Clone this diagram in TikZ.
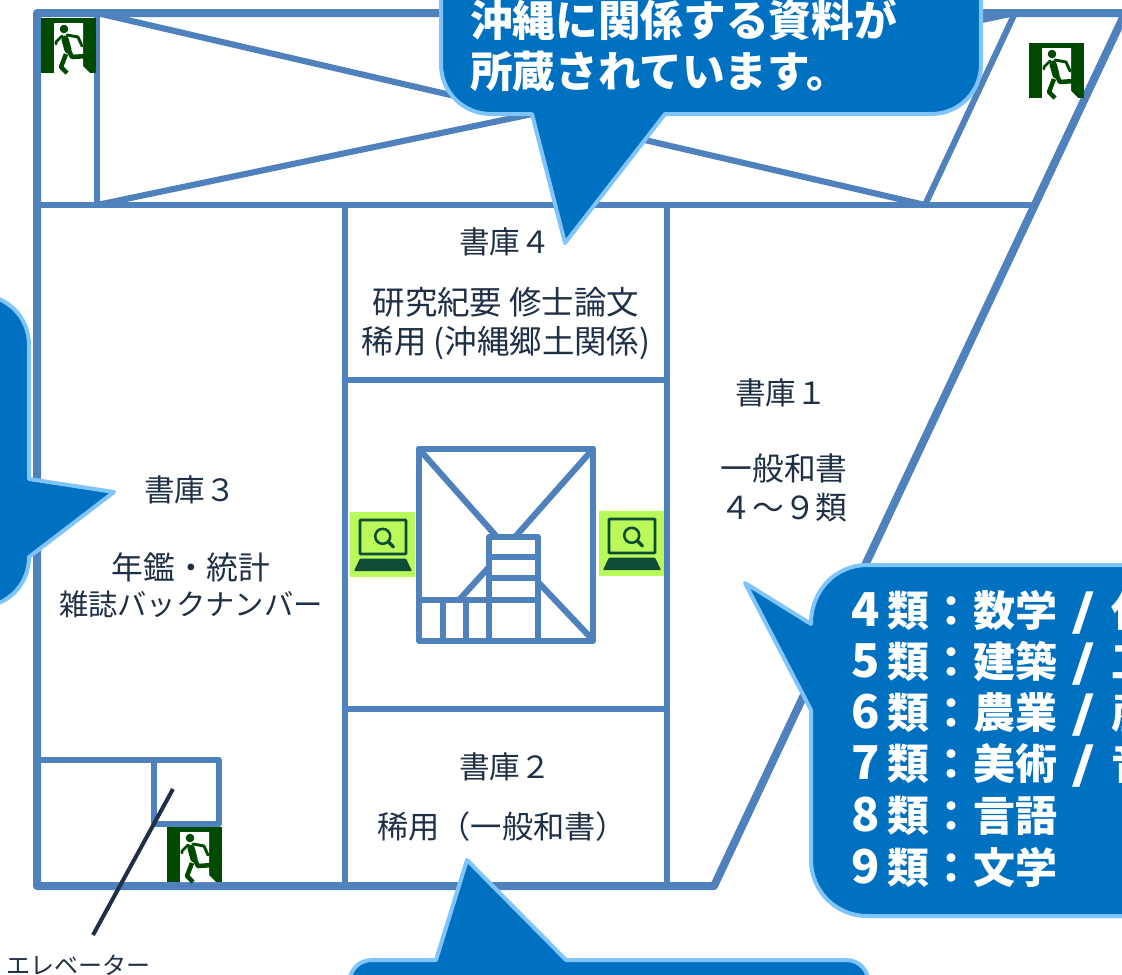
\documentclass[tikz,border=0pt]{standalone}
\usepackage{fontspec}
\setmainfont{Noto Sans CJK JP}
\definecolor{wall}{HTML}{4F81BD}
\definecolor{calloutfill}{HTML}{0070C0}
\definecolor{calloutedge}{HTML}{7FC4FA}
\definecolor{ink}{HTML}{1F2F45}
\definecolor{exitgreen}{HTML}{004A00}
\definecolor{termbg}{HTML}{B9F95A}
\definecolor{termink}{HTML}{0F4C35}
\newcommand{\catline}[3]{\makebox[27pt][l]{\fontsize{35}{38}\selectfont #1}類\makebox[33pt][c]{：}#2\ifx&#3&\else\makebox[40.5pt][c]{\scalebox{1.5}[1]{\fontsize{32}{38}\selectfont /}}#3\fi}
\tikzset{
  x=0.75pt,y=-0.75pt,
  outerwall/.style={draw=wall,line width=6pt,line join=round,line cap=round},
  innerwall/.style={draw=wall,line width=4.6pt,line join=round,line cap=round},
  floorline/.style={draw=wall,line width=5pt,line join=round,line cap=round},
  callout/.style={fill=calloutfill,draw=calloutedge,line width=3pt,line join=round},
  roomlabel/.style={text=ink,font=\fontsize{23.8}{29.25}\selectfont,align=center,inner sep=0pt},
  storelabel/.style={roomlabel,font=\fontsize{23}{29.25}\selectfont},
  bubbletext/.style={text=white,font=\fontsize{32}{38.25}\selectfont\bfseries,align=left,anchor=west,inner sep=0pt},
  cattext/.style={text=white,font=\fontsize{31.5}{38.25}\selectfont\bfseries,anchor=west,inner sep=0pt},
  pics/exitsign/.style={code={
    \fill[exitgreen] (0,0) rectangle (55,55);
    \fill[white] (13,5) -- (42,5) -- (42,48) -- (49,55) -- (13,55) -- cycle;
    \fill[exitgreen] (23,11) circle[radius=4.3];
    \draw[exitgreen,line width=5.4pt,line cap=round] (24,21) -- (27,32);
    \draw[exitgreen,line width=2pt,line cap=round,line join=round] (21,18) -- (15,24) -- (15,26);
    \draw[exitgreen,line width=2.2pt,line cap=round,line join=round] (26,17) -- (37,19) -- (41,28);
    \draw[exitgreen,line width=3.4pt,line join=round] (28,33) -- (31,39) -- (46,38);
    \draw[exitgreen,line width=1.4pt,line join=round] (46,37) -- (48,41);
    \draw[exitgreen,line width=3.4pt,line join=round] (25,36) -- (20,49) -- (26,55);
  }},
  pics/terminal/.style={code={
    \fill[termbg] (0,0) rectangle (65,65);
    \draw[termink,line width=2.2pt,rounded corners=0.7pt] (10,8) rectangle (56,42);
    \fill[termink,rounded corners=0.7pt] (10,46.5) -- (56,46.5) -- (62,59) -- (4,59) -- cycle;
    \draw[termink,line width=1.9pt] (32.7,24.3) circle[radius=7.5];
    \draw[termink,line width=2.4pt,line cap=round] (38.5,30) -- (43.5,35);
  }}
}
\begin{document}
\begin{tikzpicture}
\clip (0,0) rectangle (1122,975);
\fill[white] (0,0) rectangle (1122,975);
% plan
\path[outerwall] (1160,13) -- (37,13) -- (37,886) -- (714,886) -- (1136,-10);
\path[floorline] (37,205) -- (1030,205);
\path[innerwall] (97,13) -- (97,205);
\path[innerwall] (97,13) -- (925,205);
\path[innerwall] (97,205) -- (1015,13);
\path[innerwall] (925,205) -- (1015,13);
\path[innerwall] (345,205) -- (345,885);
\path[innerwall] (667,205) -- (667,885);
\path[innerwall] (345,380) -- (667,380);
\path[innerwall] (345,709) -- (667,709);
% elevator
\path[innerwall] (37,760) -- (219,760) -- (219,824) -- (154,824) -- (154,760);
% stairwell
\path[innerwall] (419,449) rectangle (593,641);
\path[innerwall] (419,449) -- (497,537);
\path[innerwall] (593,449) -- (515,537);
\path[innerwall] (489,537) rectangle (538,641);
\path[innerwall] (489,557) -- (538,557);
\path[innerwall] (489,578) -- (538,578);
\path[innerwall] (419,600) -- (538,600);
\path[innerwall] (443,600) -- (443,641);
\path[innerwall] (466,600) -- (466,641);
\path[innerwall] (459,600) -- (489,567);
\path[innerwall] (538,582) -- (591,638);
% signs
\pic at (41,18) {exitsign};
\pic at (1029,43) {exitsign};
\pic at (167,827) {exitsign};
\pic at (350,512) {terminal};
\pic at (599,511) {terminal};
% room labels
\node[storelabel] (r4) at (505,242) {書庫４};
\node[roomlabel,font=\fontsize{24.3}{29.25}\selectfont] (r4b) at (506,324) {研究紀要 修士論文\\稀用 (沖縄郷土関係)};
\node[storelabel] (r1) at (781,393) {書庫１};
\node[roomlabel] (r1b) at (784,488) {一般和書\\４～９類};
\node[storelabel] (r3) at (190,490) {書庫３};
\node[roomlabel] (r3a) at (191,567) {年鑑・統計};
\node[roomlabel,font=\fontsize{22}{27}\selectfont] (r3b) at (191,604) {雑誌バックナンバー};
\node[storelabel] (r2) at (505,767) {書庫２};
\node[roomlabel,font=\fontsize{23.4}{27}\selectfont] (r2b) at (502,827) {稀用（一般和書）};
% elevator leader
\node[text=ink,font=\fontsize{18}{20}\selectfont,inner sep=0pt] (elev) at (79,965) {エレベーター};
\coordinate (elevtop) at (173,789);
\coordinate (elevfoot) at (93,935);
\draw[ink,line width=3pt] (elevtop) -- (elevfoot);
% callouts
\path[callout] (532,114) -- (565,243) -- (665,114) -- (931,114) .. controls (959,114) and (981,92) .. (981,64) -- (981,-60) -- (441,-60) -- (441,64) .. controls (441,92) and (463,114) .. (491,114) -- cycle;
\node[bubbletext] (t1) at (470,20) {沖縄に関係する資料が};
\node[bubbletext] (t2) at (470,71) {所蔵されています。};
\path[callout] (-60,295) -- (-21,295) .. controls (7,295) and (29,317) .. (29,345) -- (29,479) -- (114,492) -- (29,557) .. controls (29,585) and (7,607) .. (-21,607) -- (-60,607) -- cycle;
\path[callout] (745,583) -- (811,624) .. controls (811,590) and (836,565) .. (867,565) -- (1200,565) -- (1200,916) -- (867,916) .. controls (836,916) and (811,891) .. (811,860) -- (811,710) -- cycle;
\node[cattext] (c4) at (851,612) {\catline{4}{数学}{化}};
\node[cattext] (c5) at (851,663) {\catline{5}{建築}{工}};
\node[cattext] (c6) at (851,714) {\catline{6}{農業}{産}};
\node[cattext] (c7) at (851,765) {\catline{7}{美術}{音}};
\node[cattext] (c8) at (851,816) {\catline{8}{言語}{}};
\node[cattext] (c9) at (851,867) {\catline{9}{文学}{}};
\path[callout] (349,985) .. controls (349,971) and (358,960) .. (372,960) -- (436,960) -- (467,860) -- (566,960) -- (846,960) .. controls (860,960) and (869,971) .. (869,985) -- (869,1100) -- (349,1100) -- cycle;
\end{tikzpicture}
\end{document}
